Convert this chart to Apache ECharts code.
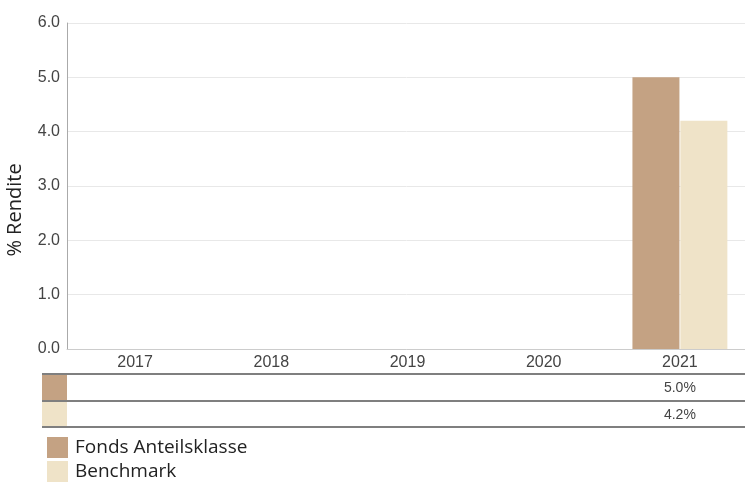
<!DOCTYPE html>
<html><head><meta charset="utf-8">
<script src="https://cdn.jsdelivr.net/npm/echarts@6/dist/echarts.min.js"></script>
<style>html,body{margin:0;padding:0;background:#fff}#c{width:745px;height:482px}</style>
</head><body><div id="c"></div>
<script>
const categories = ['2017','2018','2019','2020','2021'];
const fundName = 'Fonds Anteilsklasse';
const benchName = 'Benchmark';
const yAxisTitle = '% Rendite';
const fundValues = [null, null, null, null, 5.0];
const benchValues = [null, null, null, null, 4.2];
const yTicks = [0, 1, 2, 3, 4, 5, 6];

const fundColor = '#C4A283';
const benchColor = '#EFE3C8';

const chart = echarts.init(document.getElementById('c'));
const option = {
  animation: false,
  grid: {left: 67, right: -3, top: 23, bottom: 133, outerBoundsMode: 'none', containLabel: false},
  legend: {
    orient: 'vertical', left: 47, top: 437, itemWidth: 21, itemHeight: 21, itemGap: 3,
    padding: 0, icon: 'rect', selectedMode: false,
    textStyle: {fontFamily: 'Open Sans', fontSize: 19, color: '#222', padding: [10,0,0,2]},
    data: [fundName, benchName]
  },
  xAxis: {
    type: 'category', data: categories,
    axisLine: {show: true, lineStyle: {color: '#ccc', width: 1}},
    axisTick: {show: false},
    axisLabel: {fontFamily: 'Liberation Sans', fontSize: 16, color: '#444', margin: 6}
  },
  yAxis: {
    type: 'value', min: yTicks[0], max: yTicks[yTicks.length-1], interval: 1,
    axisLine: {show: true, lineStyle: {color: '#aaa'}},
    axisTick: {show: false},
    splitLine: {lineStyle: {color: '#e8e8e8'}},
    axisLabel: {fontFamily: 'Liberation Sans', fontSize: 16, color: '#444', margin: 7,
      formatter: v => v.toFixed(1)}
  },
  series: [
    {name: fundName, type: 'bar', data: fundValues, barWidth: '34.5%', barGap: '2%',
     itemStyle: {color: fundColor}},
    {name: benchName, type: 'bar', data: benchValues, barWidth: '34.5%',
     itemStyle: {color: benchColor}}
  ]
};
chart.setOption(option);

// table below the chart
const rows = [[fundColor, fundValues], [benchColor, benchValues]];
const g = [];
g.push({type: 'text', x: 15, y: 210, rotation: Math.PI / 2,
  style: {text: yAxisTitle, align: 'center', verticalAlign: 'middle',
    fontFamily: 'Open Sans', fontSize: 20, fill: '#222'}});
const lineYs = [374, 401, 427];
lineYs.forEach(y => g.push({type: 'line', shape: {x1: 42, y1: y, x2: 745, y2: y},
  style: {stroke: '#555', lineWidth: 1.5}}));
rows.forEach((r, i) => {
  const top = lineYs[i] + 1, bot = lineYs[i+1] - 1;
  g.push({type: 'rect', shape: {x: 42, y: top, width: 25, height: bot - top}, style: {fill: r[0]}});
  r[1].forEach((v, j) => {
    if (v == null) return;
    const px = chart.convertToPixel({xAxisIndex: 0}, categories[j]);
    g.push({type: 'text', x: px, y: (top + bot) / 2 + 1,
      style: {text: v.toFixed(1) + '%', align: 'center', verticalAlign: 'middle',
        fontFamily: 'Liberation Sans', fontSize: 14, fill: '#444'}});
  });
});
chart.setOption({graphic: g});
</script></body></html>
